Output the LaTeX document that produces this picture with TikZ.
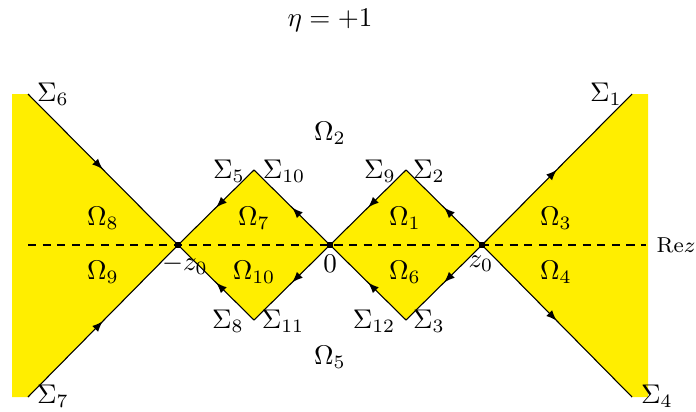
\documentclass[tikz,border=0pt]{standalone}
\usetikzlibrary{decorations.markings}
\definecolor{regionyellow}{RGB}{255,238,0}
\begin{document}
\begin{tikzpicture}[x=0.37pt,y=-0.37pt,
  region/.style={fill=regionyellow,draw=none},
  contour/.style={draw=black,line width=0.4pt,postaction={decorate},
    decoration={markings,mark=at position 0.5 with {\arrow{latex}}}},
  axis/.style={dash pattern=on 3pt off 2.4pt,line width=0.4pt},
  lbl/.style={inner sep=0pt},
  pt/.style={rectangle,fill=black,inner sep=0pt,minimum size=1.9pt}]
\useasboundingbox (0,0) rectangle (696,411);
% key points
\coordinate (mz) at (178,245);
\coordinate (o) at (330,245);
\coordinate (z) at (482,245);
\coordinate (lt) at (254,170);
\coordinate (lb) at (254,320);
\coordinate (rt) at (406,170);
\coordinate (rb) at (406,320);
\coordinate (s6) at (28,94);
\coordinate (s7) at (28,397);
\coordinate (s1) at (632,94);
\coordinate (s4) at (632,397);
\coordinate (lu) at (12,94);
\coordinate (ld) at (12,397);
\coordinate (ru) at (648,94);
\coordinate (rd) at (648,397);
\coordinate (axl) at (28,245);
\coordinate (axr) at (646,245);
% yellow regions
\fill[region] (lu) -- (s6) -- (mz) -- (s7) -- (ld) -- cycle;
\fill[region] (mz) -- (lt) -- (o) -- (lb) -- cycle;
\fill[region] (o) -- (rt) -- (z) -- (rb) -- cycle;
\fill[region] (z) -- (s1) -- (ru) -- (rd) -- (s4) -- cycle;
% real axis
\draw[axis] (axl) -- (axr);
% contours
\path[contour] (s6) -- (mz);
\path[contour] (s7) -- (mz);
\path[contour] (z) -- (s1);
\path[contour] (z) -- (s4);
\path[contour] (lt) -- (mz);
\path[contour] (o) -- (lt);
\path[contour] (lb) -- (mz);
\path[contour] (o) -- (lb);
\path[contour] (rt) -- (o);
\path[contour] (z) -- (rt);
\path[contour] (rb) -- (o);
\path[contour] (z) -- (rb);
% points
\node[pt] (pmz) at (mz) {};
\node[pt] (po) at (o) {};
\node[pt] (pz) at (z) {};
% labels
\node[lbl] (title) at (330,20) {$\eta=+1$};
\node[lbl] (rez) at (676,245) {\footnotesize$\mathrm{Re}z$};
\node[lbl] (lmz) at (185,265) {$-z_0$};
\node[lbl] (lo) at (330,264) {$0$};
\node[lbl] (lz) at (481,264) {$z_0$};
\node[lbl] (S6) at (53,94) {$\Sigma_6$};
\node[lbl] (S7) at (53,396) {$\Sigma_7$};
\node[lbl] (S1) at (606,94) {$\Sigma_1$};
\node[lbl] (S4) at (657,396) {$\Sigma_4$};
\node[lbl] (S5) at (229,171) {$\Sigma_5$};
\node[lbl] (S10) at (284,171) {$\Sigma_{10}$};
\node[lbl] (S9) at (380,171) {$\Sigma_9$};
\node[lbl] (S2) at (429,171) {$\Sigma_2$};
\node[lbl] (S8) at (228,321) {$\Sigma_8$};
\node[lbl] (S11) at (283,321) {$\Sigma_{11}$};
\node[lbl] (S12) at (374,321) {$\Sigma_{12}$};
\node[lbl] (S3) at (429,321) {$\Sigma_3$};
\node[lbl] (O2) at (330,133) {$\Omega_2$};
\node[lbl] (O5) at (330,357) {$\Omega_5$};
\node[lbl] (O8) at (103,218) {$\Omega_8$};
\node[lbl] (O9) at (103,272) {$\Omega_9$};
\node[lbl] (O7) at (254,218) {$\Omega_7$};
\node[lbl] (O10) at (254,272) {$\Omega_{10}$};
\node[lbl] (O1) at (405,218) {$\Omega_1$};
\node[lbl] (O6) at (405,272) {$\Omega_6$};
\node[lbl] (O3) at (556,218) {$\Omega_3$};
\node[lbl] (O4) at (556,272) {$\Omega_4$};
\end{tikzpicture}
\end{document}
